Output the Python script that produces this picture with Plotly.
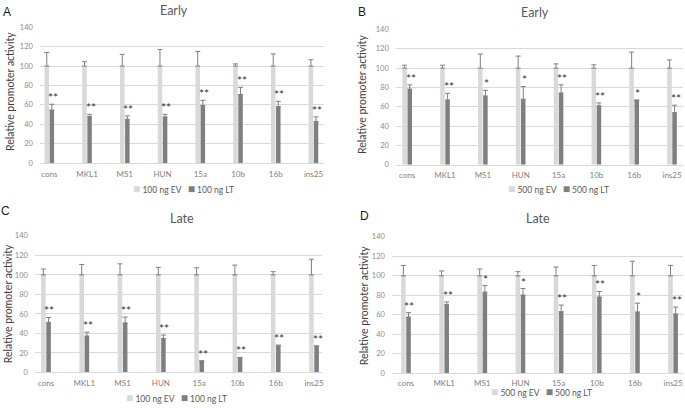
import plotly.graph_objects as go

categories = ["cons", "MKL1", "MS1", "HUN", "15a", "10b", "16b", "ins25"]

# Panel A - Early, 100 ng
A_names = ["100 ng EV", "100 ng LT"]
A_ev = [100, 100, 100, 100, 100, 100, 100, 100]
A_ev_err = [14, 4.5, 12, 17, 15, 2.2, 12.5, 6.5]
A_lt = [54.6, 47.9, 45.2, 47.6, 59.3, 70.7, 58.3, 42.9]
A_lt_err = [6.0, 2.3, 3.4, 2.6, 5.3, 7.3, 5.3, 4.7]
A_sig = ["**", "**", "**", "**", "**", "**", "**", "**"]

# Panel B - Early, 500 ng
B_names = ["500 ng EV", "500 ng LT"]
B_ev = [100, 100, 100, 100, 100, 100, 100, 100]
B_ev_err = [3, 3, 14.6, 12.5, 4.4, 3.4, 16.6, 8.5]
B_lt = [78.3, 67.1, 71.2, 67.8, 74.2, 61.0, 66.4, 53.8]
B_lt_err = [4.4, 6.8, 5.8, 13.2, 8.5, 3.0, 0.7, 7.8]
B_sig = ["**", "**", "*", "*", "**", "**", "*", "**"]

# Panel C - Late, 100 ng
C_names = ["100 ng EV", "100 ng LT"]
C_ev = [100, 100, 100, 100, 100, 100, 100, 100]
C_ev_err = [6, 10.7, 11.3, 7.7, 7.3, 10, 3.3, 16]
C_lt = [51.3, 37.3, 50.7, 34.7, 11.3, 15.0, 27.3, 26.7]
C_lt_err = [5.0, 4.0, 6.0, 3.6, 0.7, 0.3, 0.7, 0.6]
C_sig = ["**", "**", "**", "**", "**", "**", "**", "**"]

# Panel D - Late, 500 ng
D_names = ["500 ng EV", "500 ng LT"]
D_ev = [100, 100, 100, 100, 100, 100, 100, 100]
D_ev_err = [10.7, 5, 7, 4.3, 9, 10.7, 15, 10.7]
D_lt = [57.7, 70.7, 83.3, 80.3, 63.3, 78.3, 63.0, 61.0]
D_lt_err = [4.6, 2.6, 6.7, 6.7, 6.7, 5.7, 9.0, 7.0]
D_sig = ["**", "**", "*", "*", "**", "**", "*", "**"]

y_ticks = [0, 20, 40, 60, 80, 100, 120, 140]
panel_letters = ["A", "B", "C", "D"]
panel_titles = ["Early", "Early", "Late", "Late"]
y_title = "Relative promoter activity"

W, H = 685, 408
EV_COLOR = "#d9d9d9"
LT_COLOR = "#7f7f7f"
ERR_COLOR = "#7f7f7f"
FONT = "Lato"

panels = [
    dict(names=A_names, ev=A_ev, ev_err=A_ev_err, lt=A_lt, lt_err=A_lt_err, sig=A_sig,
         px=(40, 325), py=(23.3, 162.7), xr=[-0.25, 7.28],
         letter=(7.5, 8), title=(175, 6.5), ytitle=(10, 89), legend=(184.5, 188.5)),
    dict(names=B_names, ev=B_ev, ev_err=B_ev_err, lt=B_lt, lt_err=B_lt_err, sig=B_sig,
         px=(397, 685), py=(25.7, 164.3), xr=[-0.30, 7.29],
         letter=(363, 8), title=(537, 8.5), ytitle=(363, 92), legend=(560.5, 188.5)),
    dict(names=C_names, ev=C_ev, ev_err=C_ev_err, lt=C_lt, lt_err=C_lt_err, sig=C_sig,
         px=(35, 323), py=(236.7, 376.7), xr=[-0.29, 7.21],
         letter=(6, 211.5), title=(183, 219), ytitle=(8, 306), legend=(177, 402)),
    dict(names=D_names, ev=D_ev, ev_err=D_ev_err, lt=D_lt, lt_err=D_lt_err, sig=D_sig,
         px=(393, 685), py=(237.7, 377.7), xr=[-0.37, 7.26],
         letter=(366, 217), title=(540, 219.5), ytitle=(365, 308), legend=(543, 396)),
]

fig = go.Figure()
layout = dict(
    width=W, height=H,
    margin=dict(l=0, r=0, t=0, b=0),
    paper_bgcolor="white", plot_bgcolor="white",
    barmode="group", bargap=0.73, bargroupgap=0.12,
    showlegend=False,
    font=dict(family=FONT, color="#595959"),
)
annotations = []

for i, p in enumerate(panels):
    n = "" if i == 0 else str(i + 1)
    xa, ya = "x" + n, "y" + n
    fig.add_trace(go.Bar(
        x=categories, y=p["ev"], name=p["names"][0], xaxis=xa, yaxis=ya,
        marker=dict(color=EV_COLOR, line=dict(width=0)),
        error_y=dict(type="data", array=p["ev_err"], arrayminus=[0] * len(categories),
                     symmetric=False, color=ERR_COLOR, thickness=1, width=2.5),
    ))
    fig.add_trace(go.Bar(
        x=categories, y=p["lt"], name=p["names"][1], xaxis=xa, yaxis=ya,
        marker=dict(color=LT_COLOR, line=dict(width=0)),
        error_y=dict(type="data", array=p["lt_err"], arrayminus=[0] * len(categories),
                     symmetric=False, color=ERR_COLOR, thickness=1, width=2.5),
    ))
    x0, x1 = p["px"]
    ytop, ybot = p["py"]
    layout["xaxis" + n] = dict(
        domain=[x0 / W, min(1.0, x1 / W)], anchor=ya, type="category",
        categoryorder="array", categoryarray=categories, range=p["xr"],
        showgrid=False, showline=True, linecolor="#d9d9d9", linewidth=1,
        ticks="", tickfont=dict(family=FONT, size=8, color="#7f7f7f"),
        ticklabelstandoff=3 if i < 3 else 2, fixedrange=True,
    )
    layout["yaxis" + n] = dict(
        domain=[1 - ybot / H, 1 - ytop / H], anchor=xa, range=[0, 140.4],
        tickvals=y_ticks, showgrid=True, gridcolor="#d9d9d9", gridwidth=1,
        zeroline=False, showline=False, ticks="",
        tickfont=dict(family=FONT, size=7.5, color="#8c8c8c"),
        ticklabelstandoff=6, fixedrange=True,
    )
    # significance stars above LT error bars
    for c, v, e, s in zip(categories, p["lt"], p["lt_err"], p["sig"]):
        annotations.append(dict(
            x=c, y=v + e, xref=xa, yref=ya, text=s, showarrow=False,
            xanchor="center", yanchor="bottom", xshift=3.5, yshift=-3,
            font=dict(family=FONT, size=12, color="#333333"),
        ))
    # panel letter
    lx, ly = p["letter"]
    annotations.append(dict(x=lx / W, y=1 - ly / H, xref="paper", yref="paper",
                            text=panel_letters[i], showarrow=False,
                            xanchor="center", yanchor="middle",
                            font=dict(family="Liberation Sans", size=12, color="#1a1a1a")))
    # panel title
    tx, ty = p["title"]
    annotations.append(dict(x=tx / W, y=1 - ty / H, xref="paper", yref="paper",
                            text=panel_titles[i], showarrow=False,
                            xanchor="center", yanchor="middle",
                            font=dict(family=FONT, size=12.5, color="#595959")))
    # y title
    yx, yy = p["ytitle"]
    annotations.append(dict(x=yx / W, y=1 - yy / H, xref="paper", yref="paper",
                            text=y_title, showarrow=False, textangle=-90,
                            xanchor="center", yanchor="middle",
                            font=dict(family=FONT, size=10.5, color="#404040")))
    # legend (drawn as text row)
    gx, gy = p["legend"]
    leg = (f"<span style='color:{EV_COLOR};font-size:12px'>■</span> {p['names'][0]}"
           f"&nbsp;&nbsp;&nbsp;"
           f"<span style='color:{LT_COLOR};font-size:12px'>■</span> {p['names'][1]}")
    annotations.append(dict(x=gx / W, y=1 - gy / H, xref="paper", yref="paper",
                            text=leg, showarrow=False, xanchor="center", yanchor="middle",
                            font=dict(family=FONT, size=8.5, color="#595959")))

layout["annotations"] = annotations
fig.update_layout(**layout)
fig.write_html(
    "out.html",
    config={"displayModeBar": False},
    post_script="document.body.style.margin='0';document.body.style.overflow='hidden';",
)
